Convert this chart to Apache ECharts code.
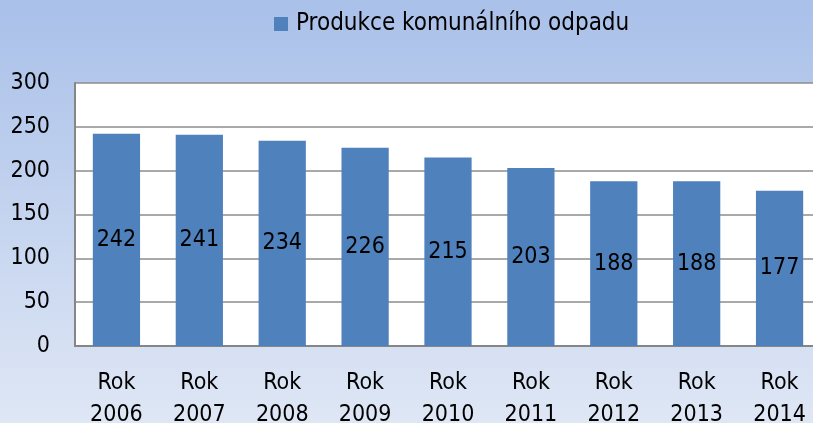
<!DOCTYPE html>
<html>
<head>
<meta charset="utf-8">
<script src="https://cdn.jsdelivr.net/npm/echarts@6/dist/echarts.min.js"></script>
<style>
  html, body { margin: 0; padding: 0; }
  #chart { width: 813px; height: 423px; }
</style>
</head>
<body>
<div id="chart"></div>
<script>
// data
var years = ['Rok\n2006', 'Rok\n2007', 'Rok\n2008', 'Rok\n2009', 'Rok\n2010',
             'Rok\n2011', 'Rok\n2012', 'Rok\n2013', 'Rok\n2014'];
var odpad = [242, 241, 234, 226, 215, 203, 188, 188, 177];
var seriesName = 'Produkce komunálního odpadu';

var FONT = '"Liberation Sans Narrow", "DejaVu Sans Condensed", "Open Sans", sans-serif';

var myChart = echarts.init(document.getElementById('chart'));

var option = {
    animation: false,
    backgroundColor: {
        type: 'linear', x: 0, y: 0, x2: 0, y2: 1,
        colorStops: [
            { offset: 0, color: '#a9c0e9' },
            { offset: 1, color: '#dfe7f5' }
        ]
    },
    legend: {
        top: 12,
        left: 274,
        padding: 0,
        itemWidth: 14,
        itemHeight: 14,
        itemGap: 4,
        icon: 'rect',
        textStyle: { fontFamily: FONT, fontSize: 24, color: '#000', padding: [0, 0, 0, 3] },
        data: [seriesName]
    },
    grid: {
        left: 75,
        top: 83,
        width: 746,
        height: 263,
        containLabel: false,
        outerBoundsMode: 'none',
        backgroundColor: '#fff',
        show: true,
        borderWidth: 0
    },
    xAxis: {
        type: 'category',
        data: years,
        axisLine: { lineStyle: { color: '#868686', width: 2 } },
        axisTick: { show: false },
        axisLabel: {
            fontFamily: FONT, fontSize: 23, color: '#000',
            lineHeight: 32, margin: 21, interval: 0
        }
    },
    yAxis: {
        type: 'value',
        min: 0,
        max: 300,
        interval: 50,
        axisLine: { show: true, lineStyle: { color: '#868686', width: 2 } },
        axisTick: { show: false },
        splitLine: { lineStyle: { color: '#8c8c8c', width: 1.5 } },
        axisLabel: { fontFamily: FONT, fontSize: 23, color: '#000', margin: 25 }
    },
    series: [{
        name: seriesName,
        type: 'bar',
        data: odpad,
        barCategoryGap: '43%',
        itemStyle: { color: '#4f81bd' },
        label: {
            show: true,
            position: 'inside',
            fontFamily: FONT, fontSize: 23, color: '#000'
        }
    }]
};

myChart.setOption(option);
</script>
</body>
</html>
